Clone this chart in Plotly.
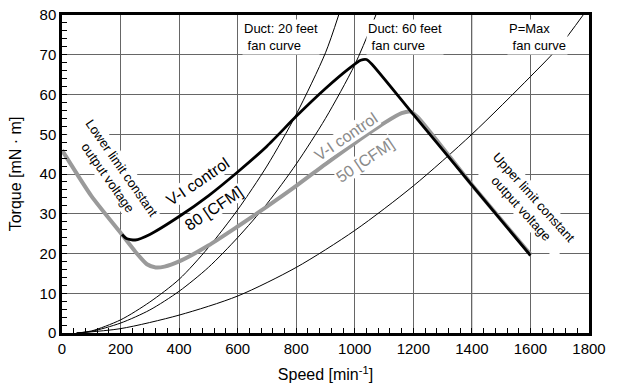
import plotly.graph_objects as go

# ---- data ----
speed_20ft = [50, 100, 200, 300, 400, 500, 600, 700, 800, 900, 945]
torque_20ft = [0, 0.5, 3.3, 7.8, 13.5, 21.5, 31, 42, 55, 70.5, 80]

speed_60ft = [50, 100, 200, 300, 400, 500, 600, 700, 800, 900, 1000, 1072]
torque_60ft = [0, 0.4, 2.5, 5.8, 10.5, 16.5, 24, 32.5, 42.5, 54, 67.5, 80]

speed_pmax = [50, 200, 400, 600, 800, 1000, 1200, 1400, 1600, 1700, 1780]
torque_pmax = [0, 1.1, 4.5, 9.3, 16.5, 25.8, 37, 50, 64.5, 72.2, 80]

speed_vi50 = [0, 100, 200, 250, 290, 320, 350, 400, 500, 600, 700, 800, 900, 1000, 1100, 1160, 1190, 1215, 1400, 1600]
torque_vi50 = [46, 34.5, 25.2, 20.5, 17.3, 16.5, 16.7, 18, 22, 26.8, 31.8, 37, 42.5, 47.8, 52.8, 55.3, 55.7, 54.3, 37.3, 19.8]

speed_vi80 = [205, 220, 250, 300, 400, 500, 600, 700, 800, 900, 980, 1020, 1040, 1060, 1200, 1400, 1600]
torque_vi80 = [24.8, 23.8, 23.4, 24.8, 29.3, 34.5, 40.5, 47, 54.5, 61.5, 66.5, 68.6, 68.8, 67.5, 55, 37.2, 19.5]

x_ticks = [0, 200, 400, 600, 800, 1000, 1200, 1400, 1600, 1800]
y_ticks = [0, 10, 20, 30, 40, 50, 60, 70, 80]
light_grid_speed = 1400  # this vertical grid line is drawn lighter in the reference

FONT = "Arial, Liberation Sans, sans-serif"

fig = go.Figure()
for xs, ys in [(speed_20ft, torque_20ft), (speed_60ft, torque_60ft), (speed_pmax, torque_pmax)]:
    fig.add_trace(go.Scatter(x=xs, y=ys, mode="lines", line=dict(color="black", width=1, shape="spline", smoothing=0.8),
                             showlegend=False, hoverinfo="skip"))
fig.add_trace(go.Scatter(x=speed_vi50, y=torque_vi50, mode="lines",
                         line=dict(color="#9a9a9a", width=4, shape="spline", smoothing=0.6),
                         showlegend=False))
fig.add_trace(go.Scatter(x=speed_vi80, y=torque_vi80, mode="lines",
                         line=dict(color="black", width=2.8, shape="spline", smoothing=0.6),
                         showlegend=False))

fig.add_shape(type="line", xref="x", yref="paper", x0=light_grid_speed, x1=light_grid_speed, y0=0, y1=1,
              line=dict(color="#b8b8b8", width=1.5), layer="between")

def ann(x, y, text, angle=0, color="black", size=13, align="left", pad=1):
    fig.add_annotation(x=x, y=y, xref="x", yref="y", text=text, showarrow=False, textangle=angle,
                       font=dict(family=FONT, size=size, color=color), bgcolor="white", borderpad=pad,
                       align=align)

ann(748, 74.5, "Duct: 20 feet<br> fan curve")
ann(1171, 74.5, "Duct: 60 feet<br> fan curve")
ann(1625, 74.5, "P=Max<br> fan curve")
ann(180, 40.2, "Lower limit constant<br>output voltage", angle=55, align="center")
ann(465, 38.0, "V-I control", angle=-34, size=16, pad=0)
ann(518, 31.3, "80 [CFM]", angle=-34, size=16, pad=0)
ann(971, 49.4, "V-I control", angle=-34, size=16, color="#8a8a8a", pad=0)
ann(1034, 43.5, "50 [CFM]", angle=-34, size=16, color="#8a8a8a", pad=0)
ann(1590, 32.7, "Upper limit constant<br>output voltage", angle=48, align="center")

axis_common = dict(showline=True, linecolor="black", linewidth=2.5, mirror=True,
                   showgrid=True, gridcolor="#666666", gridwidth=1, automargin=False,
                   ticks="inside", ticklen=5, tickcolor="black", zeroline=False,
                   tickfont=dict(family=FONT, size=15, color="black"))

fig.update_xaxes(range=[0, 1800], tickvals=x_ticks, ticktext=[str(v) for v in x_ticks],
                 minor=dict(dtick=40, tick0=0, ticks="inside", ticklen=5, tickcolor="black", showgrid=False),
                 title=dict(text="Speed [min<sup>-1</sup>]", font=dict(family=FONT, size=16, color="black"), standoff=14),
                 **axis_common)
fig.update_yaxes(range=[0, 80], tickvals=y_ticks, ticktext=[str(v) for v in y_ticks],
                 minor=dict(dtick=2, tick0=0, ticks="inside", ticklen=5, tickcolor="black", showgrid=False),
                 title=dict(text="Torque [mN · m]", font=dict(family=FONT, size=16, color="black"), standoff=14),
                 **axis_common)

fig.update_layout(width=618, height=387, margin=dict(l=62, r=29, t=15, b=54),
                  paper_bgcolor="white", plot_bgcolor="white", font=dict(family=FONT))

fig.write_html("out.html", config={"displayModeBar": False},
               post_script="document.body.style.margin='0px';document.body.style.padding='0px';")
